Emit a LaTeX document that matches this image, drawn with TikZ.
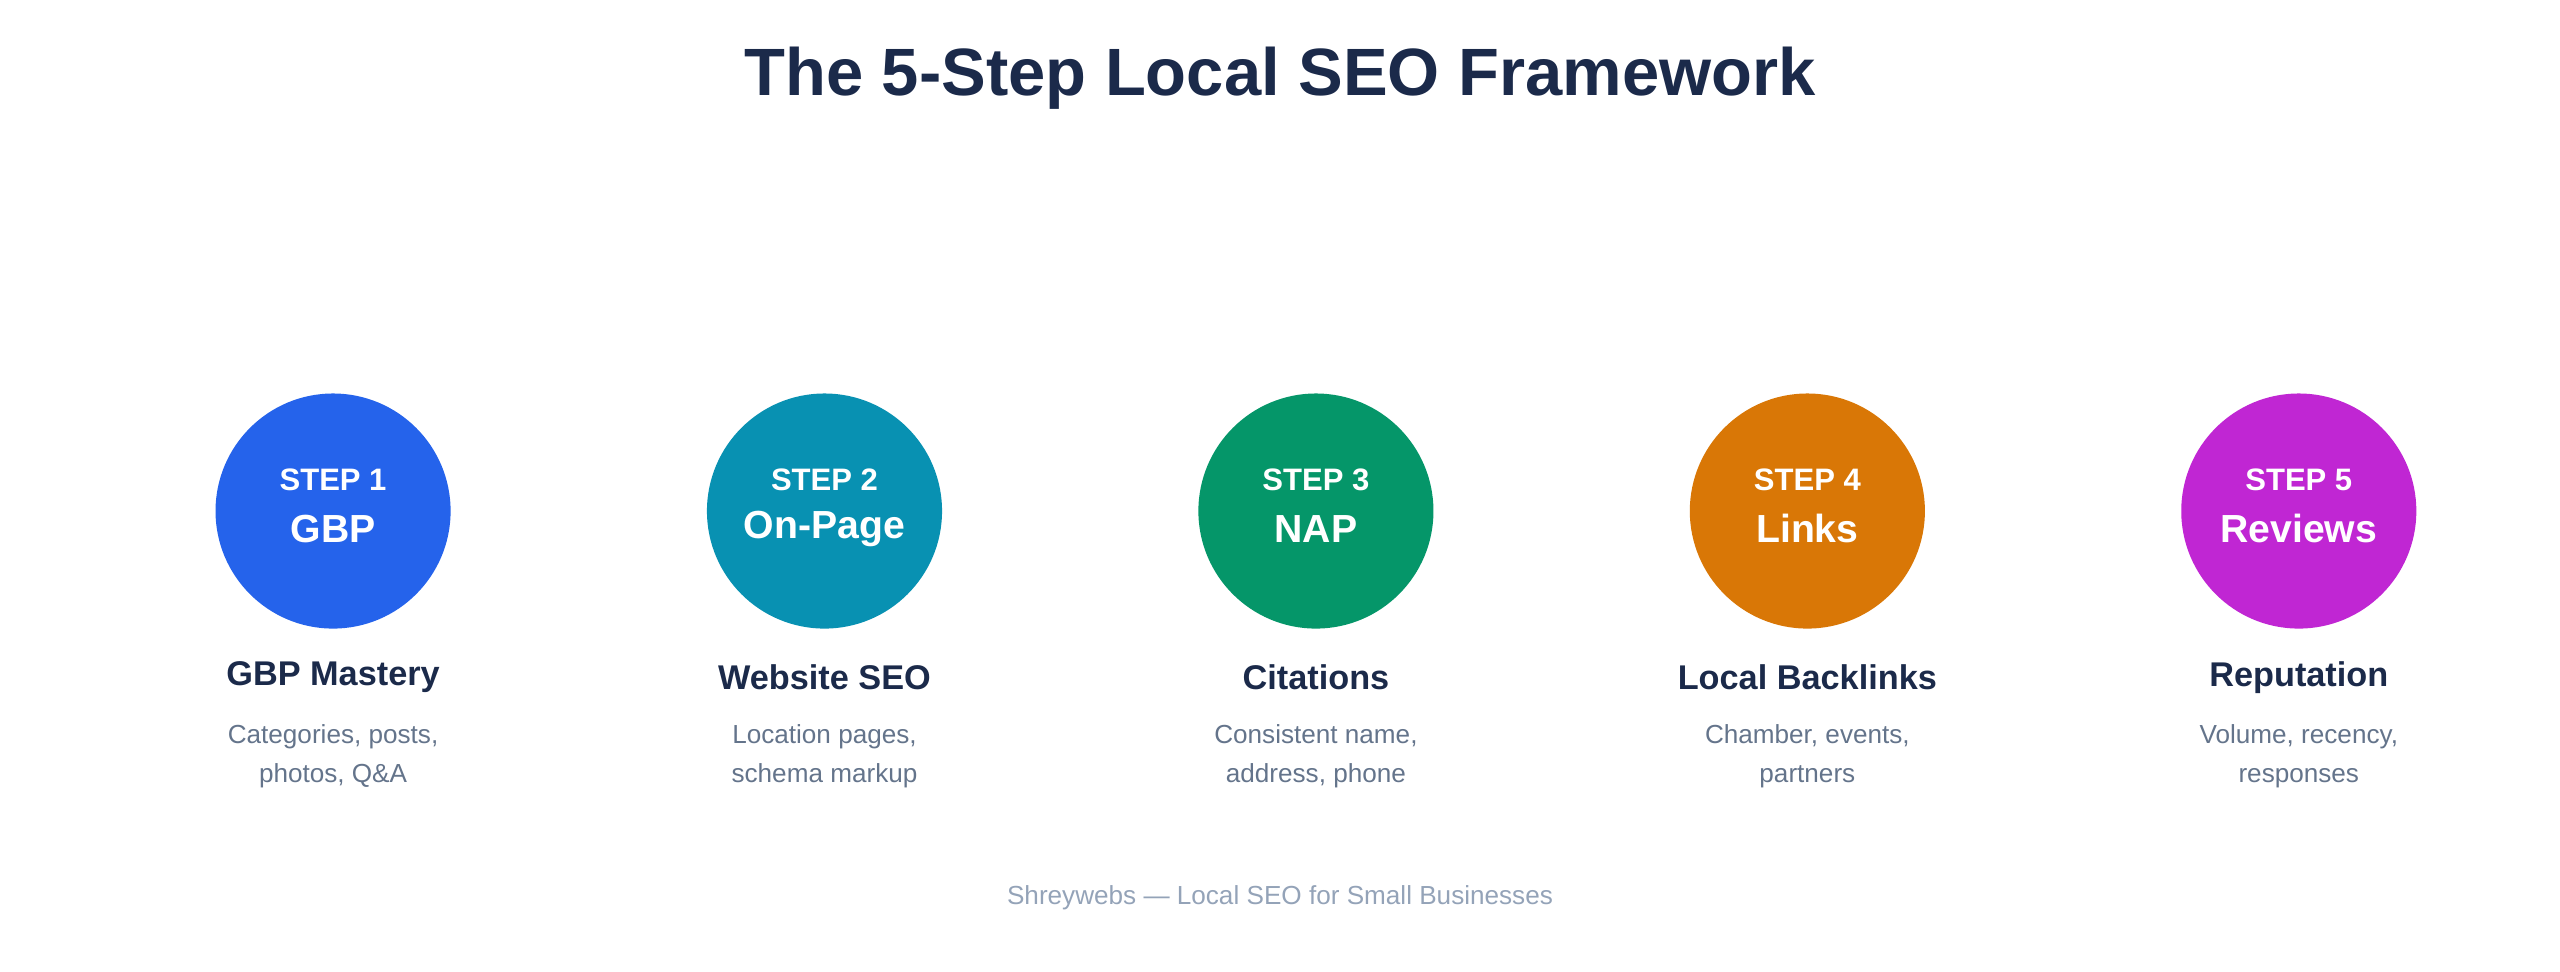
\documentclass[tikz,border=0pt]{standalone}
\usepackage{fontspec}
\setmainfont{Liberation Sans}
\usetikzlibrary{arrows.meta,decorations.markings}
\definecolor{navy}{HTML}{1B2A4A}
\definecolor{desc}{HTML}{64748B}
\definecolor{foot}{HTML}{94A3B8}
\definecolor{track}{HTML}{D5DEE8}
\definecolor{tip}{HTML}{94A3B8}
\definecolor{c1}{HTML}{2563EB}
\definecolor{c2}{HTML}{0891B2}
\definecolor{c3}{HTML}{059669}
\definecolor{c4}{HTML}{D97706}
\definecolor{c5}{HTML}{C026D3}
\begin{document}
\begin{tikzpicture}[x=1pt,y=-1pt,
  step/.style={circle,minimum size=144pt,inner sep=0pt,fill=#1},
  track/.style={draw=track,line width=6pt,postaction={decorate},
    decoration={markings,mark=at position 0.5 with {\arrow[tip,line width=0pt]{Triangle[length=16pt,width=15pt]}}}},
  lab/.style={text=white,font=\bfseries\fontsize{19}{22}\selectfont},
  big/.style={text=white,font=\bfseries\fontsize{24}{28}\selectfont},
  head/.style={text=navy,font=\bfseries\fontsize{21}{25}\selectfont},
  dsc/.style={text=desc,font=\fontsize{16}{24}\selectfont,align=center}]
\useasboundingbox (0,0) rectangle (1568,595);
\node[text=navy,font=\bfseries\fontsize{41}{48}\selectfont] (title) at (784,48) {The 5-Step Local SEO Framework};
\foreach \i/\x/\c/\w/\h/\da/\db in {1/204/c1/GBP/GBP Mastery/{Categories, posts,}/{photos, Q\&A},
  2/505/c2/On-Page/Website SEO/{Location pages,}/{schema markup},
  3/806/c3/NAP/Citations/{Consistent name,}/{address, phone},
  4/1107/c4/Links/Local Backlinks/{Chamber, events,}/partners,
  5/1408/c5/Reviews/Reputation/{Volume, recency,}/responses}{
  \node[step=\c] (s\i) at (\x,313) {};
  \node[lab] (l\i) at (\x,294) {STEP \i};
  \node[big] (b\i) at (\x,324) {\w};
  \node[head] (h\i) at (\x,415) {\h};
  \node[dsc] (d\i) at (\x,463) {\da\\\db};
}
\begin{scope}[on background layer/.style={}]
\end{scope}
\node[text=foot,font=\fontsize{16}{20}\selectfont] (foot) at (784,550) {Shreywebs — Local SEO for Small Businesses};
\end{tikzpicture}
\end{document}
